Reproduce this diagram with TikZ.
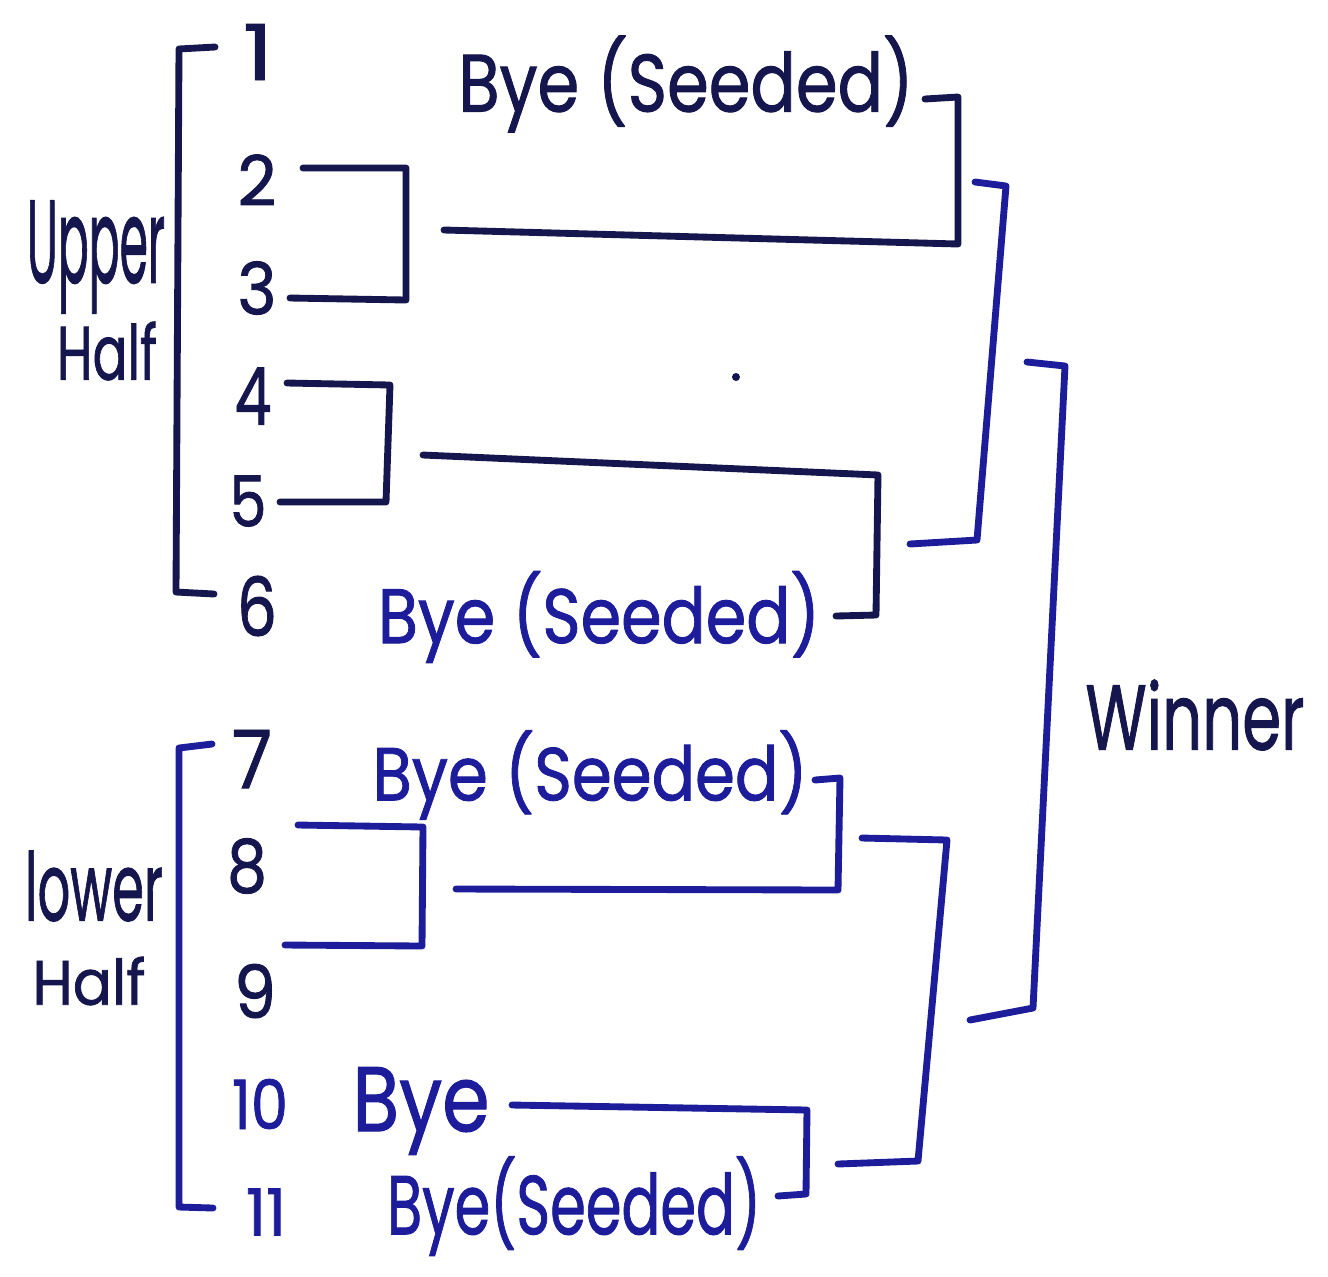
\documentclass[tikz,border=0pt]{standalone}
\usepackage{fontspec}
\setmainfont{Poppins}[FakeBold=1.2]
\usepackage{graphicx}
\definecolor{inkdark}{HTML}{16164F}
\definecolor{inkblue}{HTML}{1D1D9C}
\newlength\pxu
\setlength\pxu{0.02cm}
% squeeze a hand-lettered label into a given width and height (in px units)
\newcommand\fitbox[3]{\resizebox{#1\pxu}{#2\pxu}{#3}}
\begin{document}
\begin{tikzpicture}[x=0.02cm,y=-0.02cm,
  pen/.style={line width=3.9pt, line cap=round, line join=round},
  lbl/.style={inner sep=0pt, outer sep=0pt},
]
\useasboundingbox (0,0) rectangle (1328,1276);
\fill[white] (0,0) rectangle (1328,1276);

% ---- seed numbers
\node[lbl,text=inkdark] (n1)  at (258,52)   {\fitbox{30}{56}{1}};
\node[lbl,text=inkdark] (n2)  at (257,180)  {\fitbox{39}{51}{2}};
\node[lbl,text=inkdark] (n3)  at (257,288)  {\fitbox{39}{53}{3}};
\node[lbl,text=inkdark] (n4)  at (253,396)  {\fitbox{37}{57}{4}};
\node[lbl,text=inkdark] (n5)  at (248,501)  {\fitbox{37}{51}{5}};
\node[lbl,text=inkdark] (n6)  at (257,606)  {\fitbox{40}{60}{6}};
\node[lbl,text=inkdark] (n7)  at (252,759)  {\fitbox{40}{58}{7}};
\node[lbl,text=inkdark] (n8)  at (247,866)  {\fitbox{40}{54}{8}};
\node[lbl,text=inkdark] (n9)  at (255,991)  {\fitbox{42}{54}{9}};
\node[lbl,text=inkblue] (n10) at (260,1104) {\fitbox{56}{50}{10}};
\node[lbl,text=inkblue] (n11) at (266,1212) {\fitbox{40}{47}{11}};

% ---- half labels
\node[lbl,text=inkdark] (up)  at (96,257)  {\fitbox{138}{82}{Upper}};
\node[lbl,text=inkdark] (uh)  at (107,351) {\fitbox{100}{58}{Half}};
\node[lbl,text=inkdark] (lo)  at (94,886)  {\fitbox{138}{70}{lower}};
\node[lbl,text=inkdark] (lh)  at (89,981)  {\fitbox{113}{48}{Half}};

% ---- byes and winner
\node[lbl,text=inkdark] (bye1)  at (686,84)   {\fitbox{455}{76}{Bye (Seeded)}};
\node[lbl,text=inkblue] (bye6)  at (599,617)  {\fitbox{442}{72}{Bye (Seeded)}};
\node[lbl,text=inkblue] (bye7)  at (590,775)  {\fitbox{435}{70}{Bye (Seeded)}};
\node[lbl,text=inkblue] (bye10) at (421,1111) {\fitbox{137}{64}{Bye}};
\node[lbl,text=inkblue] (bye11) at (574,1206) {\fitbox{374}{78}{Bye(Seeded)}};
\node[lbl,text=inkdark] (win)   at (1195,715) {\fitbox{219}{70}{Winner}};

% ---- bracket corners
\coordinate (ub1) at (215,47);  \coordinate (ub2) at (179,49);
\coordinate (ub3) at (176,592); \coordinate (ub4) at (214,594);
\coordinate (a1) at (303,168);  \coordinate (a2) at (406,168);
\coordinate (a3) at (406,300);  \coordinate (a4) at (290,298);
\coordinate (c1) at (287,383);  \coordinate (c2) at (390,385);
\coordinate (c3) at (386,502);  \coordinate (c4) at (280,502);
\coordinate (t1) at (925,99);   \coordinate (t2) at (958,97);
\coordinate (t3) at (958,244);  \coordinate (t4) at (444,230);
\coordinate (r1) at (423,455);  \coordinate (r2) at (878,475);
\coordinate (r3) at (876,615);  \coordinate (r4) at (836,616);
\coordinate (s1) at (975,182);  \coordinate (s2) at (1006,186);
\coordinate (s3) at (977,540);  \coordinate (s4) at (910,544);
\coordinate (f1) at (1027,362); \coordinate (f2) at (1065,366);
\coordinate (f3) at (1033,1008);\coordinate (f4) at (970,1020);
\coordinate (lb1) at (212,744); \coordinate (lb2) at (179,748);
\coordinate (lb3) at (179,1207);\coordinate (lb4) at (213,1208);
\coordinate (b1) at (298,825);  \coordinate (b2) at (423,827);
\coordinate (b3) at (422,946);  \coordinate (b4) at (285,945);
\coordinate (q1) at (815,780);  \coordinate (q2) at (840,778);
\coordinate (q3) at (838,890);  \coordinate (q4) at (456,889);
\coordinate (p1) at (862,838);  \coordinate (p2) at (947,840);
\coordinate (p3) at (918,1161); \coordinate (p4) at (838,1164);
\coordinate (m1) at (512,1105); \coordinate (m2) at (807,1110);
\coordinate (m3) at (806,1194); \coordinate (m4) at (778,1196);

% ---- brackets
\draw[pen,inkdark] (ub1) -- (ub2) -- (ub3) -- (ub4);
\draw[pen,inkdark] (a1) -- (a2) -- (a3) -- (a4);
\draw[pen,inkdark] (c1) -- (c2) -- (c3) -- (c4);
\draw[pen,inkdark] (t1) -- (t2) -- (t3) -- (t4);
\draw[pen,inkdark] (r1) -- (r2) -- (r3) -- (r4);
\draw[pen,inkblue] (s1) -- (s2) -- (s3) -- (s4);
\draw[pen,inkblue] (f1) -- (f2) -- (f3) -- (f4);
\draw[pen,inkblue] (lb1) -- (lb2) -- (lb3) -- (lb4);
\draw[pen,inkblue] (b1) -- (b2) -- (b3) -- (b4);
\draw[pen,inkblue] (q1) -- (q2) -- (q3) -- (q4);
\draw[pen,inkblue] (p1) -- (p2) -- (p3) -- (p4);
\draw[pen,inkblue] (m1) -- (m2) -- (m3) -- (m4);

% stray pen dot
\fill[inkdark] (736,377) circle (0.08cm);
\end{tikzpicture}
\end{document}
